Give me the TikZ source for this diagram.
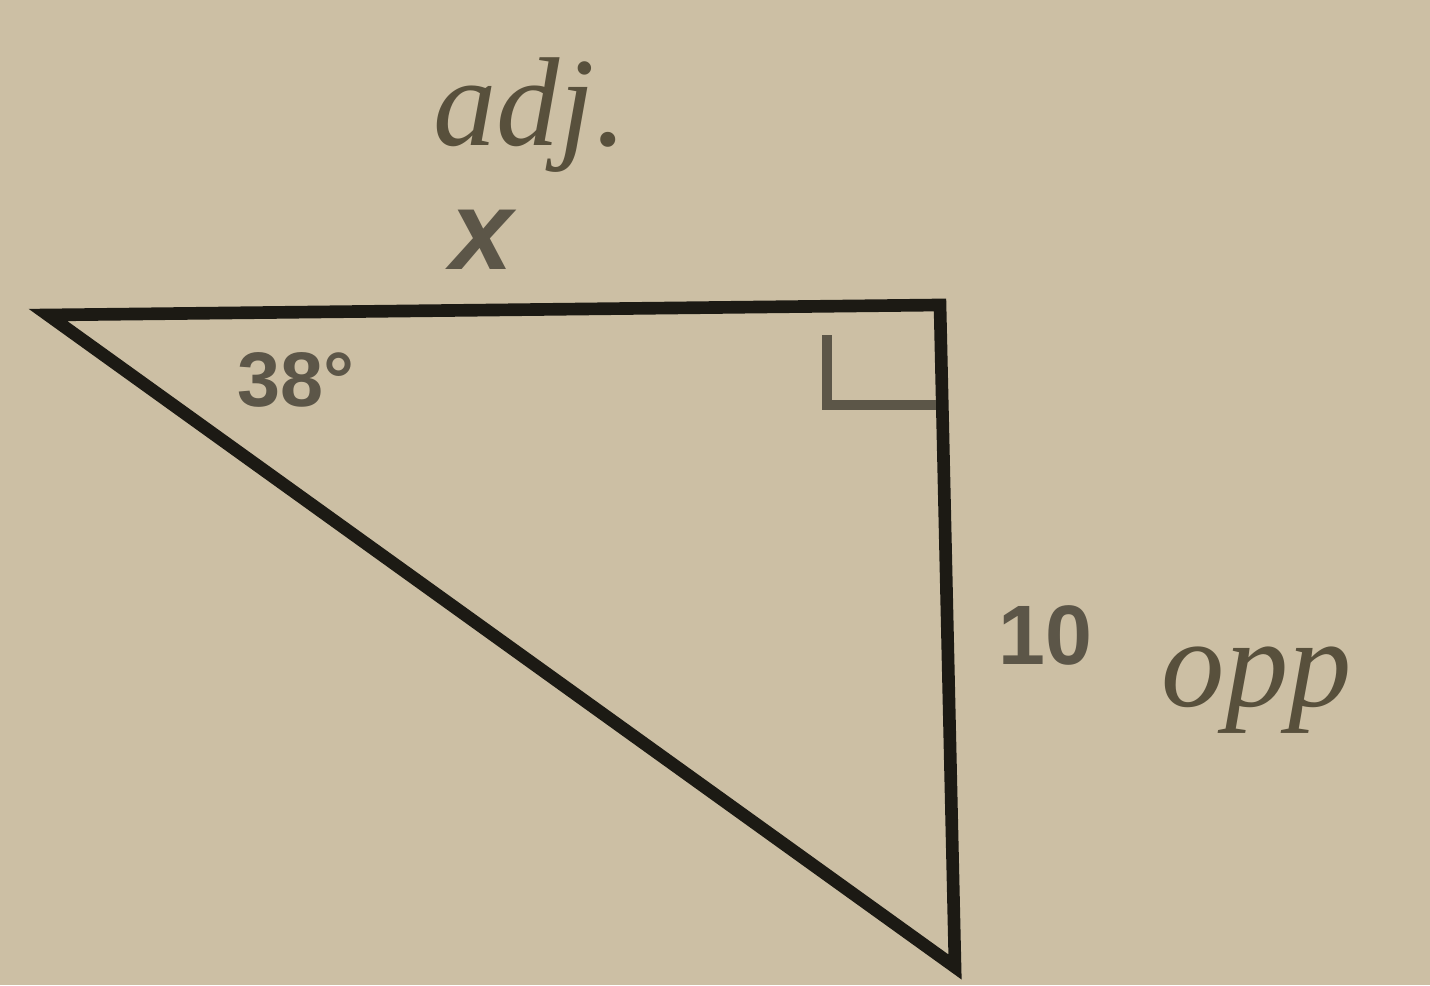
\documentclass[tikz,border=0pt]{standalone}
\usepackage{fontspec}
\setmainfont{Liberation Sans}
\newfontfamily\handfont{Liberation Serif}
\usetikzlibrary{positioning}
\definecolor{Paper}{RGB}{204,191,164}
\definecolor{Ink}{RGB}{28,26,20}
\definecolor{Print}{RGB}{92,86,72}
\definecolor{Pencil}{RGB}{88,80,60}

\begin{document}
\begin{tikzpicture}[
    side/.style={draw=Ink, line width=3.6pt, line join=miter},
    rightmark/.style={draw=Print, line width=2.6pt},
    lbl/.style={text=Print, font=\fontsize{22}{24}\selectfont\bfseries},
    hand/.style={text=Pencil, font=\handfont\itshape\fontsize{36}{38}\selectfont}
  ]
  \fill[Paper] (0,0) rectangle (14.30,9.85);
  \useasboundingbox (0,0) rectangle (14.30,9.85);

  % triangle
  \coordinate (A) at (0.48,6.70);
  \coordinate (B) at (9.40,6.80);
  \coordinate (C) at (9.55,0.18);
  \draw[side] (A) -- (B) -- (C) -- cycle;

  % right angle
  \coordinate (m1) at (9.36,5.80);
  \coordinate (m2) at (8.27,5.80);
  \coordinate (m3) at (8.27,6.50);
  \draw[rightmark] (m1) -- (m2) -- (m3);

  % printed labels
  \node[lbl] (ang) at (2.96,6.05) {38\textdegree};
  \node[text=Print, font=\fontsize{32}{34}\selectfont\itshape\bfseries] (sx) at (4.82,7.45) {x};
  \node[lbl, font=\fontsize{24}{26}\selectfont\bfseries] (sa) at (10.45,3.50) {10};

  % pencil notes
  \node[hand] (adj) at (5.30,8.70) {adj.};
  \node[hand, right=0.45 of sa.east, yshift=-0.55cm, anchor=west] (opp) {opp};
\end{tikzpicture}
\end{document}
